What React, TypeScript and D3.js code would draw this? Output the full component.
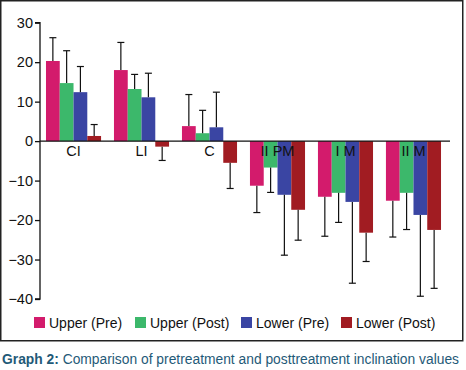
import { useEffect, useRef } from "react";
import { axisLeft, scaleBand, scaleLinear, select } from "d3";

const categories = ["CI", "LI", "C", "II PM", "I M", "II M"];
const seriesNames = ["Upper (Pre)", "Upper (Post)", "Lower (Pre)", "Lower (Post)"];
const colors = ["#d31b6c", "#3cb86b", "#3a45a3", "#a11c22"];

// mean values per series, one entry per category
const upperPre = [20.3, 18.0, 3.8, -11.3, -14.1, -15.1];
const upperPost = [14.7, 13.2, 2.0, -6.7, -13.1, -13.1];
const lowerPre = [12.4, 11.1, 3.5, -13.6, -15.4, -18.7];
const lowerPost = [1.3, -1.4, -5.5, -17.4, -23.2, -22.5];

// error bar ends (value + / - SD)
const upperPreErr = [26.2, 25.0, 11.8, -18.1, -24.1, -24.3];
const upperPostErr = [22.9, 16.9, 7.8, -13.0, -20.6, -22.4];
const lowerPreErr = [18.9, 17.2, 12.4, -28.9, -36.0, -39.3];
const lowerPostErr = [4.2, -4.9, -12.0, -25.1, -30.5, -37.3];

const yTicks = [30, 20, 10, 0, -10, -20, -30, -40];

const W = 466;
const H = 370;
const FONT = "'Liberation Sans', Arial, Helvetica, sans-serif";

function App() {
  const svgRef = useRef(null);

  useEffect(() => {
    const svg = select(svgRef.current);
    svg.selectAll("*").remove();

    const values = [upperPre, upperPost, lowerPre, lowerPost];
    const errs = [upperPreErr, upperPostErr, lowerPreErr, lowerPostErr];

    const x = scaleBand<string>()
      .domain(categories)
      .range([40, 447])
      .paddingInner(0.19)
      .paddingOuter(0.088);
    const inner = scaleBand<number>()
      .domain([0, 1, 2, 3])
      .range([0, x.bandwidth()]);
    const y = scaleLinear().domain([-40, 30]).range([299, 22.7]);

    // frame
    svg
      .append("rect")
      .attr("x", 0.75)
      .attr("y", 0.75)
      .attr("width", 462)
      .attr("height", 340)
      .attr("fill", "none")
      .attr("stroke", "#222")
      .attr("stroke-width", 1.5);

    // bars + error bars
    values.forEach((arr, s) => {
      const g = svg.append("g");
      arr.forEach((v, i) => {
        const bx = (x(categories[i]) ?? 0) + (inner(s) ?? 0);
        const bw = inner.bandwidth();
        g.append("rect")
          .attr("x", bx)
          .attr("y", y(Math.max(0, v)))
          .attr("width", bw)
          .attr("height", Math.abs(y(v) - y(0)))
          .attr("fill", colors[s]);
        const cx = bx + bw / 2;
        const e = errs[s][i];
        g.append("line")
          .attr("x1", cx)
          .attr("x2", cx)
          .attr("y1", y(v))
          .attr("y2", y(e))
          .attr("stroke", "#111")
          .attr("stroke-width", 1.2);
        g.append("line")
          .attr("x1", cx - 3.5)
          .attr("x2", cx + 3.5)
          .attr("y1", y(e))
          .attr("y2", y(e))
          .attr("stroke", "#111")
          .attr("stroke-width", 1.2);
      });
    });

    // zero line
    svg
      .append("line")
      .attr("x1", 40)
      .attr("x2", 450)
      .attr("y1", y(0))
      .attr("y2", y(0))
      .attr("stroke", "#111")
      .attr("stroke-width", 1.3);

    // category labels
    svg
      .append("g")
      .selectAll("text")
      .data(categories)
      .join("text")
      .attr("x", (d) => (x(d) ?? 0) + x.bandwidth() / 2)
      .attr("y", y(0) + 15)
      .attr("text-anchor", "middle")
      .attr("font-family", FONT)
      .attr("font-size", 14.5)
      .attr("fill", "#111")
      .text((d) => d);

    // y axis
    const yAxis: any = axisLeft(y).tickValues(yTicks).tickSize(5).tickPadding(2);
    const ya = svg.append("g").attr("transform", "translate(40,0)").call(yAxis);
    ya.select(".domain").attr("stroke", "#111").attr("stroke-width", 1.3).attr("d", `M-5,${y(30)}H0V${y(-40)}H-5`);
    ya.selectAll(".tick line").attr("stroke", "#111").attr("stroke-width", 1.3);
    ya.selectAll(".tick text")
      .attr("font-family", FONT)
      .attr("font-size", 14.5)
      .attr("fill", "#111");

    // legend
    const legendX = [34, 135, 241, 341];
    const lg = svg.append("g");
    seriesNames.forEach((name, s) => {
      lg.append("rect")
        .attr("x", legendX[s])
        .attr("y", 317)
        .attr("width", 11)
        .attr("height", 11)
        .attr("fill", colors[s]);
      lg.append("text")
        .attr("x", legendX[s] + 15)
        .attr("y", 328)
        .attr("font-family", FONT)
        .attr("font-size", 14)
        .attr("fill", "#111")
        .text(name);
    });

    // caption
    const cap = svg
      .append("text")
      .attr("x", 2)
      .attr("y", 364)
      .attr("font-family", FONT)
      .attr("font-size", 13.8)
      .attr("fill", "#1f5a78")
      .attr("textLength", 457)
      .attr("lengthAdjust", "spacingAndGlyphs");
    cap.append("tspan").attr("font-weight", "bold").text("Graph 2:");
    cap.append("tspan").text(" Comparison of pretreatment and posttreatment inclination values");
  }, []);

  return (
    <div style={{ position: "absolute", left: 0, top: 0 }}>
      <svg ref={svgRef} width={W} height={H} style={{ display: "block", background: "#fff" }}></svg>
    </div>
  );
}

export default App;
